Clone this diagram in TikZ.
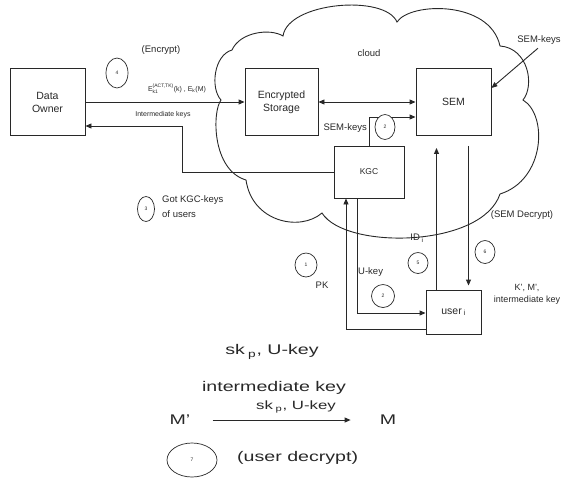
\documentclass[tikz,border=0pt]{standalone}
\usepackage{fontspec}
\setmainfont{Liberation Sans}
\usepackage{graphicx}
\usetikzlibrary{arrows.meta,shapes.geometric}
\definecolor{ink}{RGB}{40,40,40}
\tikzstyle{scheme}=[
    x=1pt, y=-1pt,
    every node/.style={text=ink},
    wire/.style={draw=ink, line width=0.9pt},
    arr/.style={wire, -{Triangle[length=6pt,width=5pt]}},
    twoway/.style={wire, {Triangle[length=6pt,width=5pt]}-{Triangle[length=6pt,width=5pt]}},
    box/.style={draw=ink, line width=0.9pt, align=center, inner sep=0pt, font={\fontsize{10.5}{13}\selectfont}},
    note/.style={font={\fontsize{9.5}{12}\selectfont}, inner sep=1pt},
    small note/.style={font={\fontsize{7}{9}\selectfont}, inner sep=1pt},
    big note/.style={font={\fontsize{14}{16}\selectfont}, inner sep=1pt},
    stepno/.style={ellipse, draw=ink, fill=white, line width=0.7pt, inner sep=0pt, font={\fontsize{5}{6}\selectfont}},
]
\newcommand{\wide}[1]{\scalebox{1.4}[1]{#1}}

\begin{document}
\begin{tikzpicture}[scheme]
    \useasboundingbox (0,0) rectangle (567,480);
    % the cloud
    \draw[wire] (283,36)
        .. controls (288,2) and (385,-6) .. (397,22)
        .. controls (410,2) and (490,0) .. (500,46)
        .. controls (528,48) and (535,85) .. (523,100)
        .. controls (548,115) and (545,180) .. (500,194)
        .. controls (482,248) and (345,250) .. (322,213)
        .. controls (300,232) and (252,222) .. (246,180)
        .. controls (212,170) and (212,112) .. (221,100)
        .. controls (210,88) and (214,55) .. (232,50)
        .. controls (240,32) and (270,28) .. (283,36) -- cycle;
    \node[note] at (369,53) {cloud};

    \node[box, minimum width=75pt, minimum height=67pt] (owner) at (47.5,102) {Data\\Owner};
    \node[box, minimum width=73pt, minimum height=67pt] (store) at (281.5,102) {Encrypted\\Storage};
    \node[box, minimum width=75pt, minimum height=67pt] (sem) at (453.5,102) {SEM};
    \node[box, minimum width=70pt, minimum height=52pt, font={\fontsize{8.5}{10}\selectfont}] (kgc) at (369,172) {KGC};
    \node[box, minimum width=55pt, minimum height=44pt] (user) at (453.5,312) {user\,\textsubscript{i}};

    % key flow
    \coordinate (turn) at (182,126);
    \draw[arr] (owner.east) -- (store.west);
    \draw[arr] (kgc.west) -| (turn) -- (owner.east |- turn);
    \draw[twoway] (store.east) -- (sem.west);
    \draw[arr] (kgc.north) |- (sem.west |- 0,117);
    \node[note] (semkeys) at (539,40) {SEM-keys};
    \draw[arr, shorten <=4pt] ([xshift=2pt]semkeys.south) -- ([yshift=14pt]sem.east);
    \draw[arr] ([yshift=-17pt]user.west) -| ([xshift=-23pt]kgc.south);
    \draw[arr] ([xshift=-12pt]kgc.south) |- (user.west |- 0,313);
    \draw[arr, shorten >=12pt] ([xshift=-17pt]user.north) -- ([xshift=-17pt]sem.south);
    \draw[arr, shorten <=10pt, shorten >=4pt] ([xshift=15pt]sem.south) -- ([xshift=15pt]user.north);

    \node[note] at (161,50) {(Encrypt)};
    \node[small note] at (177,89) {E$_{\mbox{\tiny k1}}^{\mbox{\tiny (ACT,TK)}}$(k) , E$_{\mbox{\tiny k}}$(M)};
    \node[small note] at (163,115) {Intermediate keys};
    \node[note, anchor=east] at (368,128) {SEM-keys};
    \node[note, anchor=west, align=left, font={\fontsize{9.5}{15}\selectfont}] at (161,207) {Got KGC-keys\\of users};
    \node[note] at (322,285) {PK};
    \node[note, anchor=west] at (357,272) {U-key};
    \node[note] at (417,238) {ID\,\textsubscript{i}};
    \node[note] at (522,215) {(SEM Decrypt)};
    \node[note, align=center, font={\fontsize{9}{12}\selectfont}] at (527,294) {K', M',\\intermediate key};

    % numbered steps
    \foreach \nm/\pos/\cw/\ch/\num in {s4/{117,73}/22/30/4, s2/{385,127}/20/25/2,
        s3/{146,209}/17/25/3, s1/{306,265}/22/24/1, s2b/{383,296}/23/23/2,
        s5/{418,263}/20/21/5, s6/{485,252}/20/23/6, s7/{192,460}/50/34/7}
        \node[stepno, minimum width=\cw pt, minimum height=\ch pt] (\nm) at (\pos) {\num};

    % user side decryption
    \node[big note] at (272,352) {\wide{sk\,\textsubscript{p}, U-key}};
    \node[big note] at (274,388) {\wide{intermediate key}};
    \node[big note] (mprime) at (180,420) {\wide{M'}};
    \node[big note] (mplain) at (388,420) {\wide{M}};
    \draw[arr, shorten <=21pt, shorten >=28pt] (mprime) -- (mplain);
    \node[big note, font={\fontsize{12}{14}\selectfont}] at (296,407) {\wide{sk\,\textsubscript{p}, U-key}};
    \node[big note, anchor=west] at (236,458) {\wide{(user decrypt)}};
\end{tikzpicture}
\end{document}
